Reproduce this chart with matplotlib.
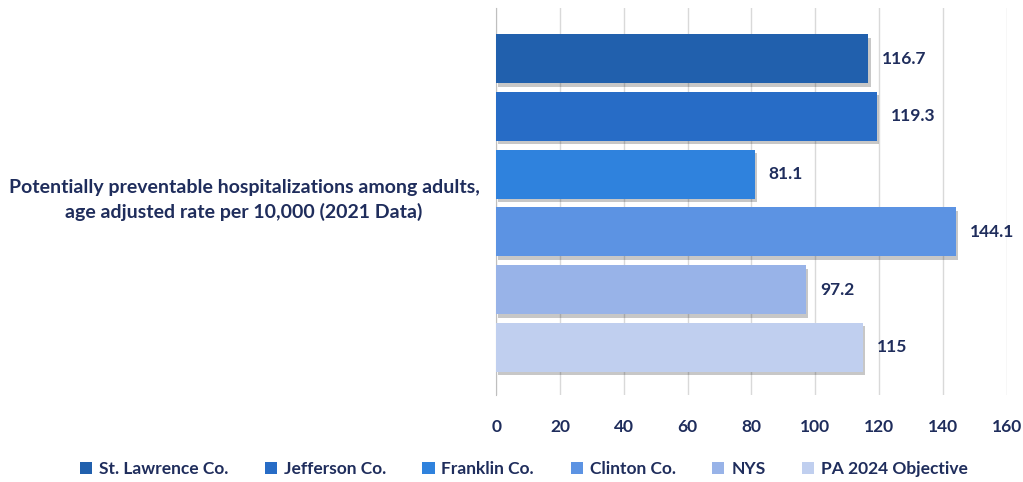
import matplotlib.pyplot as plt
import matplotlib.patheffects as pe

plt.rcParams['font.family'] = ['Lato', 'DejaVu Sans']
plt.rcParams['font.weight'] = 'bold'

category = "Potentially preventable hospitalizations among adults,\nage adjusted rate per 10,000 (2021 Data)"
series = ["St. Lawrence Co.", "Jefferson Co.", "Franklin Co.", "Clinton Co.", "NYS", "PA 2024 Objective"]
values = [116.7, 119.3, 81.1, 144.1, 97.2, 115]
labels = ["116.7", "119.3", "81.1", "144.1", "97.2", "115"]
colors = ["#2160ad", "#276cc6", "#2f82dd", "#5c93e3", "#98b3e8", "#c0cfef"]

TEXT = "#1f2d5c"

fig = plt.figure(figsize=(10.23, 4.82), dpi=100)
ax = fig.add_axes([0.485, 0.18, 0.499, 0.803])

bars = []
for i, (name, v, lab, c) in enumerate(zip(series, values, labels, colors)):
    bars.append(ax.barh(i, v, height=0.85, color=c, label=name, zorder=3))
    ax.annotate(lab, xy=(v, i), xytext=(10, 0), textcoords="offset points",
                va="center", ha="left", fontsize=12.5, color=TEXT, fontweight="bold")

ax.set_xlim(0, 160)
ax.set_xticks(range(0, 161, 20))
ax.set_ylim(5.83, -0.875)
ax.set_yticks([])
ax.tick_params(axis="x", length=0, labelsize=12.5, labelcolor=TEXT, pad=17)

# category caption to the left of the bars
fig.text(0.2385, 0.585, category, ha="center", va="center", fontsize=14,
         color=TEXT, fontweight="bold", linespacing=1.4)

ax.grid(axis="x", color="#d9d9d9", linewidth=1, zorder=0)
for s in ["top", "right", "bottom"]:
    ax.spines[s].set_visible(False)
ax.spines["left"].set_color("#bfbfbf")

fig.legend(loc="lower center", bbox_to_anchor=(0.512, -0.022), ncol=6, frameon=False,
           fontsize=12.5, handlelength=0.7, handleheight=0.7, handletextpad=0.4,
           columnspacing=2.1, labelcolor=TEXT)

# soft drop shadow under each bar (added after the legend so handles stay flat)
shadow = [pe.SimplePatchShadow(offset=(1.5, -2.5), shadow_rgbFace="#000000", alpha=0.22), pe.Normal()]
for b in bars:
    for p in b.patches:
        p.set_path_effects(shadow)

fig.savefig("out.png", dpi=100)
